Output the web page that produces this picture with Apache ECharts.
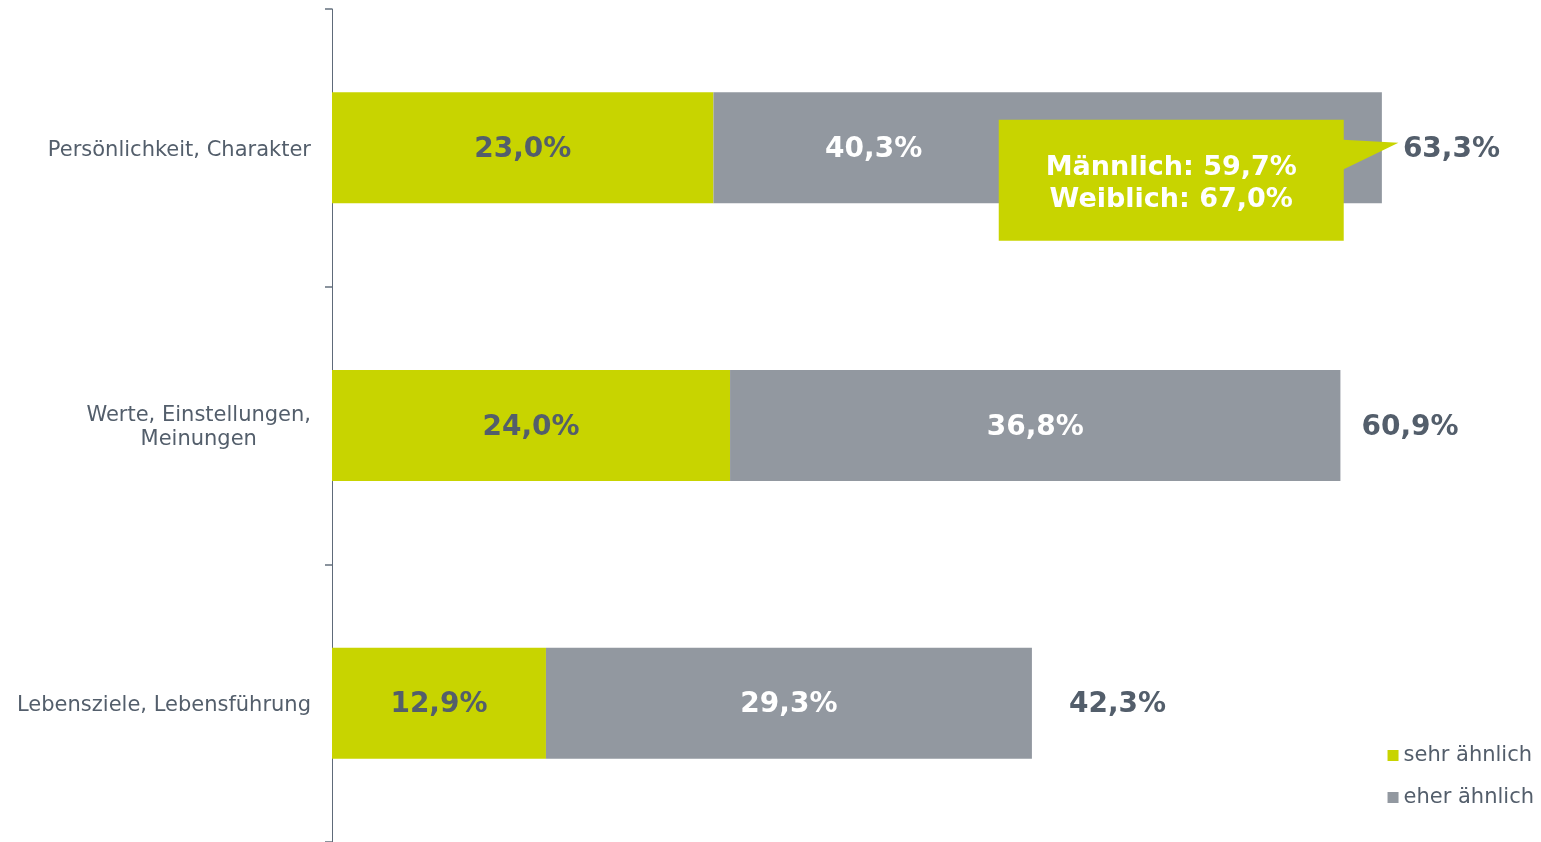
<!DOCTYPE html>
<html>
<head>
<meta charset="utf-8">
<script src="https://cdn.jsdelivr.net/npm/echarts@6/dist/echarts.min.js"></script>
<style>
  html, body { margin: 0; padding: 0; background: #fff; }
  #main { width: 1541px; height: 842px; }
</style>
</head>
<body>
<div id="main"></div>
<script>
var categories = ['Persönlichkeit, Charakter', 'Werte, Einstellungen,\nMeinungen', 'Lebensziele, Lebensführung'];
var sehrAehnlich = [23.0, 24.0, 12.9];
var eherAehnlich = [40.3, 36.8, 29.3];
var totals = [63.3, 60.9, 42.3];
var calloutLines = ['Männlich: 59,7%', 'Weiblich: 67,0%'];

var GREEN = '#c8d400';
var GREY = '#9298a0';
var TEXT = '#535e6b';
var FONT = '"DejaVu Sans", Verdana, sans-serif';

function pct(v) {
  return v.toFixed(1).replace('.', ',') + '%';
}

var chart = echarts.init(document.getElementById('main'));

var valueLabel = {
  show: true,
  position: 'inside',
  offset: [0, 2],
  fontSize: 28,
  fontWeight: 'bold',
  fontFamily: FONT,
  formatter: function (p) { return pct(p.value); }
};

var option = {
  animation: false,
  textStyle: { fontFamily: FONT },
  grid: { left: 332, right: 48, top: 9, bottom: -2, containLabel: false },
  legend: {
    data: ['sehr ähnlich', 'eher ähnlich'],
    orient: 'vertical',
    right: 2,
    top: 740,
    itemWidth: 11,
    itemHeight: 11,
    itemGap: 21,
    icon: 'rect',
    textStyle: { color: TEXT, fontSize: 21, fontFamily: FONT }
  },
  xAxis: {
    type: 'value',
    min: 0,
    max: 70,
    show: false
  },
  yAxis: {
    type: 'category',
    data: categories,
    inverse: true,
    axisLine: { lineStyle: { color: '#5e6a79', width: 1 } },
    axisTick: { show: true, length: 7, lineStyle: { color: '#8a939d', width: 2 } },
    axisLabel: {
      color: TEXT,
      fontSize: 21,
      fontFamily: FONT,
      margin: 21,
      padding: [5, 0, 0, 0],
      formatter: function (v) {
        var parts = v.split('\n');
        if (parts.length === 1) return v;
        return '{a|' + parts[0] + '}\n{c|' + parts[1] + '}';
      },
      rich: {
        a: { color: TEXT, fontSize: 21, fontFamily: FONT, lineHeight: 24 },
        c: { color: TEXT, fontSize: 21, fontFamily: FONT, lineHeight: 24, align: 'center' }
      }
    }
  },
  series: [
    {
      name: 'sehr ähnlich',
      type: 'bar',
      stack: 'total',
      barWidth: 111,
      data: sehrAehnlich,
      itemStyle: { color: GREEN },
      label: Object.assign({}, valueLabel, { color: TEXT })
    },
    {
      name: 'eher ähnlich',
      type: 'bar',
      stack: 'total',
      barWidth: 111,
      // the first label is pushed left so the callout box does not cover it
      data: eherAehnlich.map(function (v, i) {
        return i === 0 ? { value: v, label: { offset: [-174, 2] } } : v;
      }),
      itemStyle: { color: GREY },
      label: Object.assign({}, valueLabel, { color: '#ffffff' })
    },
    {
      name: 'gesamt',
      type: 'bar',
      stack: 'total',
      barWidth: 111,
      data: totals.map(function (v, i) {
        return i === 2 ? { value: 0, label: { offset: [16, 2] } } : 0;
      }),
      itemStyle: { color: 'transparent' },
      label: Object.assign({}, valueLabel, {
        position: 'right',
        distance: 21,
        color: TEXT,
        formatter: function (p) { return pct(totals[p.dataIndex]); }
      })
    }
  ]
};

chart.setOption(option);

// callout box pointing at the first total
var boxLeft = chart.convertToPixel({ gridIndex: 0 }, [40.2, 0]);
var boxRight = chart.convertToPixel({ gridIndex: 0 }, [61.0, 0]);
var tip = chart.convertToPixel({ gridIndex: 0 }, [64.3, 0]);
var bx = boxLeft[0], by = boxLeft[1] - 28, bw = boxRight[0] - boxLeft[0], bh = 121;

chart.setOption({
  graphic: [
    {
      type: 'polygon',
      z: 100,
      shape: { points: [[bx + bw - 1, by + 20], [tip[0], tip[1] - 5], [bx + bw - 1, by + 50]] },
      style: { fill: GREEN }
    },
    {
      type: 'rect',
      z: 100,
      shape: { x: bx, y: by, width: bw, height: bh },
      style: { fill: GREEN }
    },
    {
      type: 'text',
      z: 101,
      x: bx + bw / 2,
      y: by + bh / 2 + 4,
      style: {
        text: calloutLines.join('\n'),
        fill: '#ffffff',
        font: 'bold 27px ' + FONT,
        lineHeight: 32,
        align: 'center',
        verticalAlign: 'middle'
      }
    }
  ]
});
</script>
</body>
</html>
